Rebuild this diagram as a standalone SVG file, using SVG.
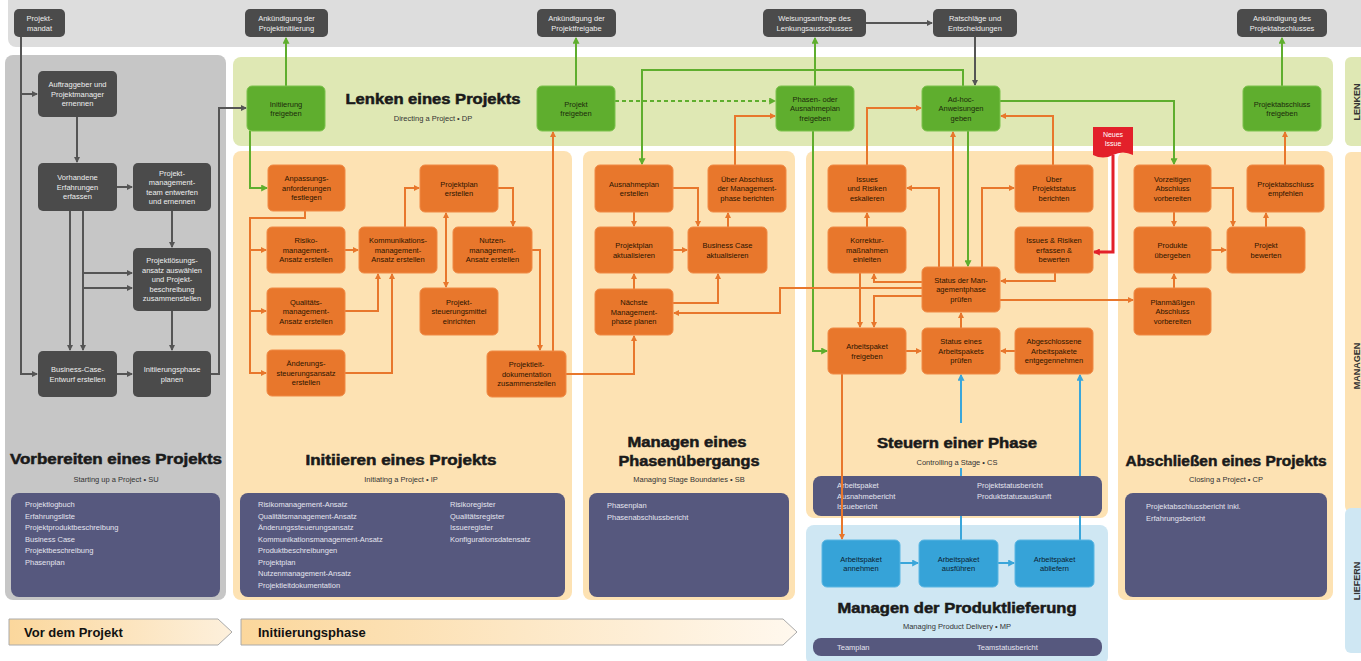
<svg xmlns="http://www.w3.org/2000/svg" width="1361" height="661" viewBox="0 0 1361 661">
<defs>
<style>
text{font-family:"Liberation Sans",Arial,sans-serif}
.n text{font-size:7.5px;text-anchor:middle}
.gy rect{fill:#4b4b4b}
.gy text{fill:#eeeeee}
.gn rect{fill:#5fae2e;stroke:#7cc24c;stroke-width:1}
.gn text{fill:#1c2a0c}
.or rect{fill:#e8772c;stroke:#f08a45;stroke-width:1}
.or text{fill:#2a1400}
.bl rect{fill:#36a3d8;stroke:#5ab6e2;stroke-width:1}
.bl text{fill:#0b2232}
.pb rect{fill:#56587e}
.pb text{fill:#e4e4ee;font-size:7.5px}
.ttl{font-weight:bold;font-size:14px;fill:#1a1a1a;stroke:#1a1a1a;stroke-width:0.5;text-anchor:middle}
.sub{font-size:7.5px;fill:#333;text-anchor:middle}
.cg{fill:none;stroke:#555;stroke-width:2}
.cgr{fill:none;stroke:#5fae2e;stroke-width:2}
.co{fill:none;stroke:#e8772c;stroke-width:2}
.cb{fill:none;stroke:#3aa6da;stroke-width:2}
.cr{fill:none;stroke:#e3202a;stroke-width:3}
.side{font-size:9px;font-weight:bold;fill:#333;text-anchor:middle}
</style>
<marker id="ag" viewBox="0 0 6 6" refX="5" refY="3" markerWidth="6" markerHeight="6" markerUnits="userSpaceOnUse" orient="auto"><path d="M0,0 L6,3 L0,6 z" fill="#555"/></marker>
<marker id="agr" viewBox="0 0 6 6" refX="5" refY="3" markerWidth="7" markerHeight="7" markerUnits="userSpaceOnUse" orient="auto"><path d="M0,0 L6,3 L0,6 z" fill="#5fae2e"/></marker>
<marker id="ao" viewBox="0 0 6 6" refX="5" refY="3" markerWidth="6" markerHeight="6" markerUnits="userSpaceOnUse" orient="auto"><path d="M0,0 L6,3 L0,6 z" fill="#e8772c"/></marker>
<marker id="aos" viewBox="0 0 6 6" refX="1" refY="3" markerWidth="6" markerHeight="6" markerUnits="userSpaceOnUse" orient="auto"><path d="M6,0 L0,3 L6,6 z" fill="#e8772c"/></marker>
<marker id="ab" viewBox="0 0 6 6" refX="5" refY="3" markerWidth="7" markerHeight="7" markerUnits="userSpaceOnUse" orient="auto"><path d="M0,0 L6,3 L0,6 z" fill="#3aa6da"/></marker>
<marker id="ar" viewBox="0 0 6 6" refX="5" refY="3" markerWidth="7" markerHeight="7" markerUnits="userSpaceOnUse" orient="auto"><path d="M0,0 L6,3 L0,6 z" fill="#e3202a"/></marker>
<linearGradient id="ph1" x1="0" y1="0" x2="1" y2="0"><stop offset="0" stop-color="#fbd79c"/><stop offset="1" stop-color="#fdf0dc"/></linearGradient>
<linearGradient id="ph2" x1="0" y1="0" x2="1" y2="0"><stop offset="0" stop-color="#fbd79c"/><stop offset="1" stop-color="#fff8ee"/></linearGradient>
</defs>
<rect width="1361" height="661" fill="#ffffff"/>
<g id="panels">
<rect x="8" y="-10" width="1360" height="57" rx="8" fill="#dddddd"/>
<rect x="5" y="55" width="221" height="545" rx="8" fill="#c6c6c6"/>
<rect x="233" y="57" width="1100" height="89" rx="8" fill="#dfe8b4"/>
<rect x="233" y="151" width="339" height="449" rx="8" fill="#fde2b3"/>
<rect x="583" y="151" width="212" height="449" rx="8" fill="#fde2b3"/>
<rect x="806" y="151" width="302" height="367" rx="8" fill="#fde2b3"/>
<rect x="1118" y="151" width="215" height="449" rx="8" fill="#fde2b3"/>
<rect x="806" y="525" width="302" height="140" rx="8" fill="#cfe7f3"/>
<rect x="1345" y="57" width="24" height="89" rx="6" fill="#dfe8b4"/>
<rect x="1345" y="152" width="24" height="360" rx="6" fill="#fde2b3"/>
<rect x="1345" y="508" width="24" height="145" rx="6" fill="#cfe7f3"/>
<text class="side" transform="translate(1360,102) rotate(-90)">LENKEN</text>
<text class="side" transform="translate(1360,366) rotate(-90)">MANAGEN</text>
<text class="side" transform="translate(1360,581) rotate(-90)">LIEFERN</text>
</g>
<g id="titles">
<text class="ttl" x="433" y="104" textLength="175" lengthAdjust="spacingAndGlyphs">Lenken eines Projekts</text>
<text class="sub" x="433" y="121">Directing a Project  •  DP</text>
<text class="ttl" x="116" y="464" textLength="212" lengthAdjust="spacingAndGlyphs">Vorbereiten eines Projekts</text>
<text class="sub" x="116" y="482">Starting up a Project  •  SU</text>
<text class="ttl" x="401" y="465" textLength="191" lengthAdjust="spacingAndGlyphs">Initiieren eines Projekts</text>
<text class="sub" x="401" y="482">Initiating a Project  •  IP</text>
<text class="ttl" x="687" y="447" textLength="119" lengthAdjust="spacingAndGlyphs">Managen eines</text>
<text class="ttl" x="689" y="466" textLength="141" lengthAdjust="spacingAndGlyphs">Phasenübergangs</text>
<text class="sub" x="689" y="482">Managing Stage Boundaries  •  SB</text>
<text class="ttl" x="957" y="448" textLength="160" lengthAdjust="spacingAndGlyphs">Steuern einer Phase</text>
<text class="sub" x="957" y="465">Controlling a Stage  •  CS</text>
<text class="ttl" x="1226" y="466" textLength="201" lengthAdjust="spacingAndGlyphs">Abschließen eines Projekts</text>
<text class="sub" x="1226" y="482">Closing a Project  •  CP</text>
<text class="ttl" x="957" y="613" textLength="239" lengthAdjust="spacingAndGlyphs">Managen der Produktlieferung</text>
<text class="sub" x="957" y="629">Managing Product Delivery  •  MP</text>
</g>
<g id="products" class="pb">
<rect x="11" y="493" width="209" height="104" rx="8"/>
<text x="25" y="507">Projektlogbuch</text><text x="25" y="518.5">Erfahrungsliste</text><text x="25" y="530">Projektproduktbeschreibung</text><text x="25" y="541.5">Business Case</text><text x="25" y="553">Projektbeschreibung</text><text x="25" y="564.5">Phasenplan</text>
<rect x="240" y="493" width="325" height="104" rx="8"/>
<text x="258" y="507">Risikomanagement-Ansatz</text><text x="258" y="518.5">Qualitätsmanagement-Ansatz</text><text x="258" y="530">Änderungssteuerungsansatz</text><text x="258" y="541.5">Kommunikationsmanagement-Ansatz</text><text x="258" y="553">Produktbeschreibungen</text><text x="258" y="564.5">Projektplan</text><text x="258" y="576">Nutzenmanagement-Ansatz</text><text x="258" y="587.5">Projektleitdokumentation</text>
<text x="450" y="507">Risikoregister</text><text x="450" y="518.5">Qualitätsregister</text><text x="450" y="530">Issueregister</text><text x="450" y="541.5">Konfigurationsdatensatz</text>
<rect x="589" y="493" width="200" height="104" rx="8"/>
<text x="607" y="508">Phasenplan</text><text x="607" y="519.5">Phasenabschlussbericht</text>
<rect x="1125" y="493" width="202" height="104" rx="8"/>
<text x="1146" y="509">Projektabschlussbericht inkl.</text><text x="1146" y="520.5">Erfahrungsbericht</text>
</g>
<g id="connectors-under">
<path class="cb" d="M961,423 V375" marker-end="url(#ab)"/>
<path class="cb" d="M961,468 V476"/>
<path class="cb" d="M961,540 V516"/>
<path class="cb" d="M1080,476 V375" marker-end="url(#ab)"/>
<path class="cb" d="M1080,540 V516"/>
</g>
<g id="products-cs" class="pb">
<rect x="813" y="476" width="289" height="40" rx="8"/>
<text x="837" y="488">Arbeitspaket</text><text x="837" y="498.5">Ausnahmebericht</text><text x="837" y="509">Issuebericht</text>
<text x="977" y="488">Projektstatusbericht</text><text x="977" y="498.5">Produktstatusauskunft</text>
<rect x="813" y="638" width="289" height="18" rx="8"/>
<text x="837" y="650">Teamplan</text><text x="977" y="650">Teamstatusbericht</text>
</g>
<g id="phases">
<polygon points="9,619 218,619 232,632 218,645 9,645" fill="url(#ph1)" stroke="#aaaaaa" stroke-width="1"/>
<text x="24" y="637" font-size="13" font-weight="bold" fill="#111">Vor dem Projekt</text>
<polygon points="241,619 783,619 797,632 783,645 241,645" fill="url(#ph2)" stroke="#aaaaaa" stroke-width="1"/>
<text x="258" y="637" font-size="13" font-weight="bold" fill="#111">Initiierungsphase</text>
</g>
<g id="connectors">
<path class="cg" d="M21,37 V374 H37" marker-end="url(#ag)"/>
<path class="cg" d="M21,94 H37" marker-end="url(#ag)"/>
<path class="cg" d="M77,117 V162" marker-end="url(#ag)"/>
<path class="cg" d="M117,187 H132" marker-end="url(#ag)"/>
<path class="cg" d="M70,211 V350" marker-end="url(#ag)"/>
<path class="cg" d="M83,211 V350" marker-end="url(#ag)"/>
<path class="cg" d="M83,273 H132" marker-end="url(#ag)"/>
<path class="cg" d="M83,288 H132" marker-end="url(#ag)"/>
<path class="cg" d="M172,211 V247" marker-end="url(#ag)"/>
<path class="cg" d="M172,311 V350" marker-end="url(#ag)"/>
<path class="cg" d="M117,374 H132" marker-end="url(#ag)"/>
<path class="cg" d="M211,374 H219 V108 H246" marker-end="url(#ag)"/>
<path class="cg" d="M866,23 H932" marker-end="url(#ag)"/>
<path class="cg" d="M975,37 V85" marker-end="url(#ag)"/>
<path class="cgr" d="M286,86 V38" marker-end="url(#agr)"/>
<path class="cgr" d="M250,131 V188 H267" marker-end="url(#agr)"/>
<path class="cgr" d="M576,86 V38" marker-end="url(#agr)"/>
<path class="cgr" d="M615,101 H775" stroke-dasharray="4,3" marker-end="url(#agr)"/>
<path class="cgr" d="M963,86 V70 H642 V164" marker-end="url(#agr)"/>
<path class="cgr" d="M1000,101 H1174 V164" marker-end="url(#agr)"/>
<path class="cgr" d="M815,86 V38" marker-end="url(#agr)"/>
<path class="cgr" d="M813,131 V351 H827" marker-end="url(#agr)"/>
<path class="cgr" d="M968,131 V266" marker-end="url(#agr)"/>
<path class="cgr" d="M1282,86 V38" marker-end="url(#agr)"/>
<path class="co" d="M305,211 V218 H250 V373 H266" marker-end="url(#ao)"/>
<path class="co" d="M250,250 H266" marker-end="url(#ao)"/>
<path class="co" d="M250,311 H266" marker-end="url(#ao)"/>
<path class="co" d="M345,250 H358" marker-end="url(#ao)"/>
<path class="co" d="M345,311 H378 V274" marker-end="url(#ao)"/>
<path class="co" d="M345,373 H392 V274" marker-end="url(#ao)"/>
<path class="co" d="M405,227 V188 H419" marker-end="url(#ao)"/>
<path class="co" d="M498,188 H513 V226" marker-end="url(#ao)"/>
<path class="co" d="M446,213 V287" marker-start="url(#aos)" marker-end="url(#ao)"/>
<path class="co" d="M532,250 H540 V350" marker-end="url(#ao)"/>
<path class="co" d="M553,351 V132" marker-end="url(#ao)"/>
<path class="co" d="M566,374 H634 V336" marker-end="url(#ao)"/>
<path class="co" d="M634,212 V226" marker-end="url(#ao)"/>
<path class="co" d="M634,289 V274" marker-end="url(#ao)"/>
<path class="co" d="M673,188 H698 V226" marker-end="url(#ao)"/>
<path class="co" d="M673,250 H687" marker-end="url(#ao)"/>
<path class="co" d="M673,303 H718 V274" marker-end="url(#ao)"/>
<path class="co" d="M728,227 V213" marker-end="url(#ao)"/>
<path class="co" d="M735,165 V116 H775" marker-end="url(#ao)"/>
<path class="co" d="M922,288 H780 V313 H674" marker-end="url(#ao)"/>
<path class="co" d="M867,165 V108 H921" marker-end="url(#ao)"/>
<path class="co" d="M939,267 V188 H907" marker-end="url(#ao)"/>
<path class="co" d="M982,267 V188 H1014" marker-end="url(#ao)"/>
<path class="co" d="M1053,165 V116 H1001" marker-end="url(#ao)"/>
<path class="co" d="M953,267 V132" marker-end="url(#ao)"/>
<path class="co" d="M867,227 V213" marker-end="url(#ao)"/>
<path class="co" d="M922,282 H874 V274" marker-end="url(#ao)"/>
<path class="co" d="M922,296 H874 V327" marker-end="url(#ao)"/>
<path class="co" d="M860,273 V327" marker-end="url(#ao)"/>
<path class="co" d="M1055,273 V281 H1001" marker-end="url(#ao)"/>
<path class="co" d="M1000,300 H1133" marker-end="url(#ao)"/>
<path class="co" d="M906,351 H921" marker-end="url(#ao)"/>
<path class="co" d="M961,328 V313" marker-end="url(#ao)"/>
<path class="co" d="M1015,351 H1001" marker-end="url(#ao)"/>
<path class="co" d="M842,374 V539" marker-end="url(#ao)"/>
<path class="co" d="M1211,188 H1233 V226" marker-end="url(#ao)"/>
<path class="co" d="M1174,212 V226" marker-end="url(#ao)"/>
<path class="co" d="M1266,227 V213" marker-end="url(#ao)"/>
<path class="co" d="M1285,165 V132" marker-end="url(#ao)"/>
<path class="co" d="M1211,250 H1226" marker-end="url(#ao)"/>
<path class="co" d="M1174,288 V274" marker-end="url(#ao)"/>
<path class="cb" d="M900,563 H918" marker-end="url(#ab)"/>
<path class="cb" d="M998,563 H1014" marker-end="url(#ab)"/>
<path class="cr" d="M1113,155 V252 H1094" marker-end="url(#ar)"/>
</g>
<g id="issue-flag">
<path d="M1093,127 H1133 V155 Q1123,150 1113,155 Q1103,160 1093,155 Z" fill="#e3202a"/>
<text x="1113" y="137" font-size="7" fill="#fff" text-anchor="middle">Neues</text>
<text x="1113" y="146" font-size="7" fill="#fff" text-anchor="middle">Issue</text>
</g>
<g id="n-mandat" class="n gy"><rect x="14" y="9" width="51" height="28" rx="5"/><text x="39.5" y="21">Projekt-</text><text x="39.5" y="30.5">mandat</text></g>
<g id="n-ank-init" class="n gy"><rect x="245" y="9" width="83" height="28" rx="5"/><text x="286.5" y="21">Ankündigung der</text><text x="286.5" y="30.5">Projektinitiierung</text></g>
<g id="n-ank-frei" class="n gy"><rect x="537" y="9" width="79" height="28" rx="5"/><text x="576.5" y="21">Ankündigung der</text><text x="576.5" y="30.5">Projektfreigabe</text></g>
<g id="n-weisung" class="n gy"><rect x="763" y="9" width="103" height="28" rx="5"/><text x="814.5" y="21">Weisungsanfrage des</text><text x="814.5" y="30.5">Lenkungsausschusses</text></g>
<g id="n-rat" class="n gy"><rect x="933" y="9" width="84" height="28" rx="5"/><text x="975" y="21">Ratschläge und</text><text x="975" y="30.5">Entscheidungen</text></g>
<g id="n-ank-abs" class="n gy"><rect x="1237" y="9" width="90" height="28" rx="5"/><text x="1282" y="21">Ankündigung des</text><text x="1282" y="30.5">Projektabschlusses</text></g>
<g id="n-auftrag" class="n gy"><rect x="38" y="71" width="79" height="46" rx="5"/><text x="77.5" y="87.2">Auftraggeber und</text><text x="77.5" y="96.7">Projektmanager</text><text x="77.5" y="106.2">ernennen</text></g>
<g id="n-erfahr" class="n gy"><rect x="38" y="163" width="79" height="48" rx="5"/><text x="77.5" y="180.2">Vorhandene</text><text x="77.5" y="189.7">Erfahrungen</text><text x="77.5" y="199.2">erfassen</text></g>
<g id="n-team" class="n gy"><rect x="133" y="163" width="78" height="48" rx="5"/><text x="172" y="175.5">Projekt-</text><text x="172" y="185">management-</text><text x="172" y="194.5">team entwerfen</text><text x="172" y="204">und ernennen</text></g>
<g id="n-loesung" class="n gy"><rect x="133" y="248" width="78" height="63" rx="5"/><text x="172" y="263.2">Projektlösungs-</text><text x="172" y="272.7">ansatz auswählen</text><text x="172" y="282.2">und Projekt-</text><text x="172" y="291.7">beschreibung</text><text x="172" y="301.2">zusammenstellen</text></g>
<g id="n-bcase" class="n gy"><rect x="38" y="351" width="79" height="46" rx="5"/><text x="77.5" y="372">Business-Case-</text><text x="77.5" y="381.5">Entwurf erstellen</text></g>
<g id="n-initplan" class="n gy"><rect x="133" y="351" width="78" height="46" rx="5"/><text x="172" y="372">Initiierungsphase</text><text x="172" y="381.5">planen</text></g>
<g id="n-initfrei" class="n gn"><rect x="247" y="86" width="78" height="45" rx="5"/><text x="286" y="106.5">Initiierung</text><text x="286" y="116">freigeben</text></g>
<g id="n-projfrei" class="n gn"><rect x="537" y="86" width="78" height="45" rx="5"/><text x="576" y="106.5">Projekt</text><text x="576" y="116">freigeben</text></g>
<g id="n-phasenfrei" class="n gn"><rect x="776" y="86" width="78" height="45" rx="5"/><text x="815" y="101.7">Phasen- oder</text><text x="815" y="111.2">Ausnahmeplan</text><text x="815" y="120.7">freigeben</text></g>
<g id="n-adhoc" class="n gn"><rect x="922" y="86" width="78" height="45" rx="5"/><text x="961" y="101.7">Ad-hoc-</text><text x="961" y="111.2">Anweisungen</text><text x="961" y="120.7">geben</text></g>
<g id="n-absfrei" class="n gn"><rect x="1243" y="86" width="78" height="45" rx="5"/><text x="1282" y="106.5">Projektabschluss</text><text x="1282" y="116">freigeben</text></g>
<g id="n-anpass" class="n or"><rect x="268" y="165" width="77" height="46" rx="5"/><text x="306.5" y="181.2">Anpassungs-</text><text x="306.5" y="190.7">anforderungen</text><text x="306.5" y="200.2">festlegen</text></g>
<g id="n-plan" class="n or"><rect x="420" y="165" width="78" height="47" rx="5"/><text x="459" y="186.5">Projektplan</text><text x="459" y="196">erstellen</text></g>
<g id="n-risiko" class="n or"><rect x="267" y="227" width="78" height="46" rx="5"/><text x="306" y="243.2">Risiko-</text><text x="306" y="252.7">management-</text><text x="306" y="262.2">Ansatz erstellen</text></g>
<g id="n-komm" class="n or"><rect x="359" y="227" width="78" height="46" rx="5"/><text x="398" y="243.2">Kommunikations-</text><text x="398" y="252.7">management-</text><text x="398" y="262.2">Ansatz erstellen</text></g>
<g id="n-nutzen" class="n or"><rect x="453" y="227" width="79" height="46" rx="5"/><text x="492.5" y="243.2">Nutzen-</text><text x="492.5" y="252.7">management-</text><text x="492.5" y="262.2">Ansatz erstellen</text></g>
<g id="n-qual" class="n or"><rect x="267" y="288" width="78" height="47" rx="5"/><text x="306" y="304.7">Qualitäts-</text><text x="306" y="314.2">management-</text><text x="306" y="323.7">Ansatz erstellen</text></g>
<g id="n-steuer" class="n or"><rect x="420" y="288" width="78" height="47" rx="5"/><text x="459" y="304.7">Projekt-</text><text x="459" y="314.2">steuerungsmittel</text><text x="459" y="323.7">einrichten</text></g>
<g id="n-aender" class="n or"><rect x="267" y="350" width="78" height="46" rx="5"/><text x="306" y="366.2">Änderungs-</text><text x="306" y="375.7">steuerungsansatz</text><text x="306" y="385.2">erstellen</text></g>
<g id="n-pid" class="n or"><rect x="487" y="351" width="79" height="46" rx="5"/><text x="526.5" y="367.2">Projektleit-</text><text x="526.5" y="376.7">dokumentation</text><text x="526.5" y="386.2">zusammenstellen</text></g>
<g id="n-ausnahme" class="n or"><rect x="595" y="165" width="78" height="47" rx="5"/><text x="634" y="186.5">Ausnahmeplan</text><text x="634" y="196">erstellen</text></g>
<g id="n-ueberabs" class="n or"><rect x="708" y="165" width="78" height="47" rx="5"/><text x="747" y="181.7">Über Abschluss</text><text x="747" y="191.2">der Management-</text><text x="747" y="200.7">phase berichten</text></g>
<g id="n-planakt" class="n or"><rect x="595" y="227" width="78" height="46" rx="5"/><text x="634" y="248">Projektplan</text><text x="634" y="257.5">aktualisieren</text></g>
<g id="n-bcakt" class="n or"><rect x="688" y="227" width="79" height="46" rx="5"/><text x="727.5" y="248">Business Case</text><text x="727.5" y="257.5">aktualisieren</text></g>
<g id="n-naechste" class="n or"><rect x="595" y="289" width="78" height="46" rx="5"/><text x="634" y="305.2">Nächste</text><text x="634" y="314.7">Management-</text><text x="634" y="324.2">phase planen</text></g>
<g id="n-eskal" class="n or"><rect x="828" y="165" width="78" height="47" rx="5"/><text x="867" y="181.7">Issues</text><text x="867" y="191.2">und Risiken</text><text x="867" y="200.7">eskalieren</text></g>
<g id="n-statber" class="n or"><rect x="1015" y="165" width="78" height="47" rx="5"/><text x="1054" y="181.7">Über</text><text x="1054" y="191.2">Projektstatus</text><text x="1054" y="200.7">berichten</text></g>
<g id="n-korr" class="n or"><rect x="828" y="227" width="78" height="46" rx="5"/><text x="867" y="243.2">Korrektur-</text><text x="867" y="252.7">maßnahmen</text><text x="867" y="262.2">einleiten</text></g>
<g id="n-issues" class="n or"><rect x="1015" y="227" width="78" height="46" rx="5"/><text x="1054" y="243.2">Issues &amp; Risiken</text><text x="1054" y="252.7">erfassen &amp;</text><text x="1054" y="262.2">bewerten</text></g>
<g id="n-statmgmt" class="n or"><rect x="922" y="267" width="78" height="45" rx="5"/><text x="961" y="282.7">Status der Man-</text><text x="961" y="292.2">agementphase</text><text x="961" y="301.7">prüfen</text></g>
<g id="n-apfrei" class="n or"><rect x="828" y="328" width="78" height="46" rx="5"/><text x="867" y="349">Arbeitspaket</text><text x="867" y="358.5">freigeben</text></g>
<g id="n-apstat" class="n or"><rect x="922" y="328" width="78" height="46" rx="5"/><text x="961" y="344.2">Status eines</text><text x="961" y="353.7">Arbeitspakets</text><text x="961" y="363.2">prüfen</text></g>
<g id="n-apentg" class="n or"><rect x="1015" y="328" width="78" height="46" rx="5"/><text x="1054" y="344.2">Abgeschlossene</text><text x="1054" y="353.7">Arbeitspakete</text><text x="1054" y="363.2">entgegennehmen</text></g>
<g id="n-vorz" class="n or"><rect x="1134" y="165" width="77" height="47" rx="5"/><text x="1172.5" y="181.7">Vorzeitigen</text><text x="1172.5" y="191.2">Abschluss</text><text x="1172.5" y="200.7">vorbereiten</text></g>
<g id="n-empf" class="n or"><rect x="1247" y="165" width="77" height="47" rx="5"/><text x="1285.5" y="186.5">Projektabschluss</text><text x="1285.5" y="196">empfehlen</text></g>
<g id="n-prod" class="n or"><rect x="1134" y="227" width="77" height="46" rx="5"/><text x="1172.5" y="248">Produkte</text><text x="1172.5" y="257.5">übergeben</text></g>
<g id="n-bewert" class="n or"><rect x="1227" y="227" width="78" height="46" rx="5"/><text x="1266" y="248">Projekt</text><text x="1266" y="257.5">bewerten</text></g>
<g id="n-planm" class="n or"><rect x="1134" y="288" width="77" height="47" rx="5"/><text x="1172.5" y="304.7">Planmäßigen</text><text x="1172.5" y="314.2">Abschluss</text><text x="1172.5" y="323.7">vorbereiten</text></g>
<g id="n-apann" class="n bl"><rect x="822" y="540" width="78" height="47" rx="5"/><text x="861" y="561.5">Arbeitspaket</text><text x="861" y="571">annehmen</text></g>
<g id="n-apaus" class="n bl"><rect x="919" y="540" width="79" height="47" rx="5"/><text x="958.5" y="561.5">Arbeitspaket</text><text x="958.5" y="571">ausführen</text></g>
<g id="n-apabl" class="n bl"><rect x="1015" y="540" width="79" height="47" rx="5"/><text x="1054.5" y="561.5">Arbeitspaket</text><text x="1054.5" y="571">abliefern</text></g>
</svg>
